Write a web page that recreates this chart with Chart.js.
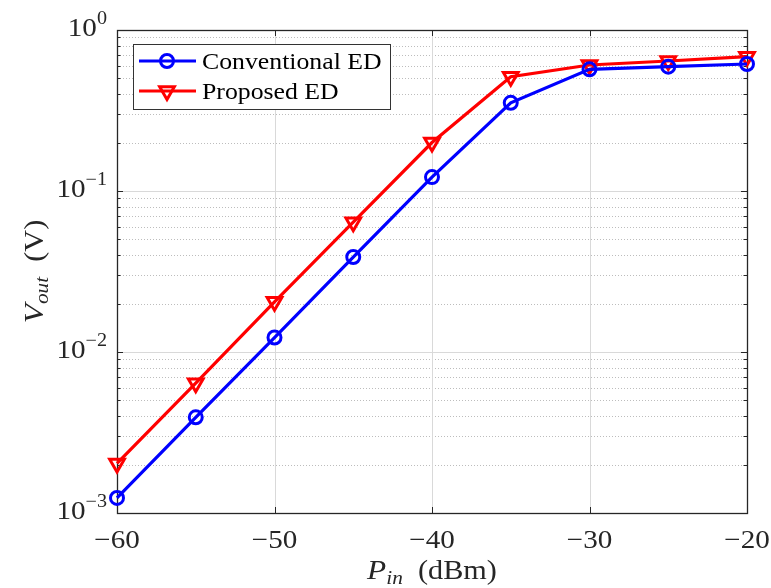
<!DOCTYPE html>
<html>
<head>
<meta charset="utf-8">
<script src="https://cdn.jsdelivr.net/npm/chart.js@4.4.1/dist/chart.umd.min.js"></script>
<style>
    html, body { margin: 0; padding: 0; background: #fff; }
    #wrap { width: 771px; height: 588px; }
</style>
</head>
<body>
<div id="wrap"><canvas id="voutChart"></canvas></div>
<script>
// Données
const pinDbm = [-60, -55, -50, -45, -40, -35, -30, -25, -20];
const vConventional = [0.00124, 0.00393, 0.0123, 0.0389, 0.122, 0.353, 0.57, 0.592, 0.615];
const vProposed = [0.00203, 0.0064, 0.0205, 0.064, 0.2, 0.513, 0.606, 0.642, 0.683];
const seriesNames = ['Conventional ED', 'Proposed ED'];
const xTickValues = [-60, -50, -40, -30, -20];
const yDecades = [-3, -2, -1, 0];

const SERIF = '"Liberation Serif", "DejaVu Serif", serif';
const AXIS_COLOR = '#262626';
const SX = 1.12; // étirement horizontal pour imiter Computer Modern

// dessine une suite de morceaux de texte (indices, exposants)
function drawParts(ctx, parts, x, y, align) {
    let total = 0;
    parts.forEach(p => { ctx.font = p.font; p.w = ctx.measureText(p.t).width * SX; total += p.w; });
    let cx = align === 'center' ? x - total / 2 : (align === 'right' ? x - total : x);
    ctx.textAlign = 'left';
    parts.forEach(p => {
        ctx.font = p.font;
        ctx.save();
        ctx.translate(cx, y + (p.dy || 0));
        ctx.scale(SX, 1);
        ctx.fillText(p.t, 0, 0);
        ctx.restore();
        cx += p.w;
    });
}

const axesDecor = {
    id: 'axesDecor',
    beforeDatasetsDraw(chart) {
        const { ctx, chartArea: a, scales: { x, y } } = chart;
        ctx.save();

        // grille mineure pointillée
        ctx.strokeStyle = '#bdbdbd';
        ctx.lineWidth = 1;
        ctx.setLineDash([1, 2]);
        yDecades.slice(0, -1).forEach(d => {
            for (let k = 2; k <= 9; k++) {
                const py = Math.round(y.getPixelForValue(k * Math.pow(10, d))) + 0.5;
                ctx.beginPath(); ctx.moveTo(a.left, py); ctx.lineTo(a.right, py); ctx.stroke();
            }
        });
        ctx.setLineDash([]);

        // grille majeure
        ctx.strokeStyle = '#d9d9d9';
        yDecades.slice(1, -1).forEach(d => {
            const py = Math.round(y.getPixelForValue(Math.pow(10, d))) + 0.5;
            ctx.beginPath(); ctx.moveTo(a.left, py); ctx.lineTo(a.right, py); ctx.stroke();
        });
        xTickValues.slice(1, -1).forEach(v => {
            const px = Math.round(x.getPixelForValue(v)) + 0.5;
            ctx.beginPath(); ctx.moveTo(px, a.top); ctx.lineTo(px, a.bottom); ctx.stroke();
        });

        // cadre et graduations intérieures
        ctx.strokeStyle = AXIS_COLOR;
        ctx.lineWidth = 1.3;
        ctx.strokeRect(Math.round(a.left) + 0.5, Math.round(a.top) + 0.5,
            Math.round(a.right - a.left), Math.round(a.bottom - a.top));
        ctx.lineWidth = 1;
        xTickValues.forEach(v => {
            const px = Math.round(x.getPixelForValue(v)) + 0.5;
            ctx.beginPath();
            ctx.moveTo(px, a.bottom); ctx.lineTo(px, a.bottom - 6);
            ctx.moveTo(px, a.top); ctx.lineTo(px, a.top + 6);
            ctx.stroke();
        });
        yDecades.forEach(d => {
            for (let k = 1; k <= 9; k++) {
                if (d === 0 && k > 1) break;
                const py = Math.round(y.getPixelForValue(k * Math.pow(10, d))) + 0.5;
                const len = k === 1 ? 6 : 3.5;
                ctx.beginPath();
                ctx.moveTo(a.left, py); ctx.lineTo(a.left + len, py);
                ctx.moveTo(a.right, py); ctx.lineTo(a.right - len, py);
                ctx.stroke();
            }
        });

        // étiquettes
        ctx.fillStyle = AXIS_COLOR;
        ctx.textBaseline = 'alphabetic';
        xTickValues.forEach(v => {
            const px = x.getPixelForValue(v);
            drawParts(ctx, [{ t: '\u2212' + Math.abs(v), font: '26px ' + SERIF }], px, a.bottom + 35, 'center');
        });
        yDecades.forEach(d => {
            const py = y.getPixelForValue(Math.pow(10, d));
            const exp = d < 0 ? '\u2212' + Math.abs(d) : String(d);
            drawParts(ctx, [
                { t: '10', font: '26px ' + SERIF, dy: 0 },
                { t: exp, font: '18px ' + SERIF, dy: -12 }
            ], a.left - 10, py + 6, 'right');
        });

        // titres des axes
        drawParts(ctx, [
            { t: 'P', font: 'italic 28px ' + SERIF },
            { t: 'in', font: 'italic 19px ' + SERIF, dy: 5 },
            { t: '  (dBm)', font: '27px ' + SERIF }
        ], (a.left + a.right) / 2, a.bottom + 66, 'center');

        ctx.translate(43, (a.top + a.bottom) / 2);
        ctx.rotate(-Math.PI / 2);
        drawParts(ctx, [
            { t: 'V', font: 'italic 28px ' + SERIF },
            { t: 'out', font: 'italic 19px ' + SERIF, dy: 5 },
            { t: '  (V)', font: '27px ' + SERIF }
        ], 0, 0, 'center');
        ctx.restore();
    },
    afterDatasetsDraw(chart) {
        // légende dans le coin haut gauche
        const { ctx, chartArea: a } = chart;
        const bx = a.left + 16, by = a.top + 14, bw = 257, bh = 65;
        ctx.save();
        ctx.fillStyle = '#fff';
        ctx.fillRect(bx, by, bw, bh);
        ctx.strokeStyle = '#333';
        ctx.lineWidth = 1;
        ctx.strokeRect(bx + 0.5, by + 0.5, bw, bh);
        chart.data.datasets.forEach((ds, i) => {
            const ly = by + 17 + i * 30;
            ctx.strokeStyle = ds.borderColor;
            ctx.lineWidth = ds.borderWidth;
            ctx.beginPath(); ctx.moveTo(bx + 6, ly); ctx.lineTo(bx + 63, ly); ctx.stroke();
            ctx.fillStyle = 'rgba(0,0,0,0)';
            ctx.lineWidth = ds.pointBorderWidth;
            Chart.helpers.drawPoint(ctx, {
                pointStyle: ds.pointStyle, rotation: ds.pointRotation,
                radius: ds.pointRadius, borderWidth: ds.pointBorderWidth
            }, bx + 34, ly);
            ctx.fillStyle = '#000';
            drawParts(ctx, [{ t: ds.label, font: '23px ' + SERIF }], bx + 69, ly + 8, 'left');
        });
        ctx.restore();
    }
};

function afficherGraphique() {
    const ctx = document.getElementById('voutChart').getContext('2d');
    new Chart(ctx, {
        type: 'line',
        data: {
            datasets: [
                {
                    label: seriesNames[0],
                    data: pinDbm.map((p, i) => ({ x: p, y: vConventional[i] })),
                    borderColor: '#0000ff',
                    backgroundColor: 'rgba(0,0,0,0)',
                    borderWidth: 3.2,
                    pointStyle: 'circle',
                    pointRadius: 6.5,
                    pointBorderWidth: 3,
                    pointRotation: 0,
                    pointBackgroundColor: 'rgba(0,0,0,0)',
                    clip: false
                },
                {
                    label: seriesNames[1],
                    data: pinDbm.map((p, i) => ({ x: p, y: vProposed[i] })),
                    borderColor: '#ff0000',
                    backgroundColor: 'rgba(0,0,0,0)',
                    borderWidth: 3.2,
                    pointStyle: 'triangle',
                    pointRadius: 8.5,
                    pointBorderWidth: 3,
                    pointRotation: 180,
                    pointBackgroundColor: 'rgba(0,0,0,0)',
                    clip: false
                }
            ]
        },
        options: {
            responsive: true,
            maintainAspectRatio: false,
            animation: false,
            layout: { padding: { left: 117, right: 24, top: 30, bottom: 75 } },
            plugins: { legend: { display: false }, tooltip: { enabled: false } },
            scales: {
                x: {
                    type: 'linear', min: -60, max: -20,
                    ticks: { display: false },
                    grid: { display: false, drawTicks: false },
                    border: { display: false }
                },
                y: {
                    type: 'logarithmic', min: 0.001, max: 1,
                    ticks: { display: false },
                    grid: { display: false, drawTicks: false },
                    border: { display: false }
                }
            }
        },
        plugins: [axesDecor]
    });
}
document.addEventListener('DOMContentLoaded', afficherGraphique);
</script>
</body>
</html>
